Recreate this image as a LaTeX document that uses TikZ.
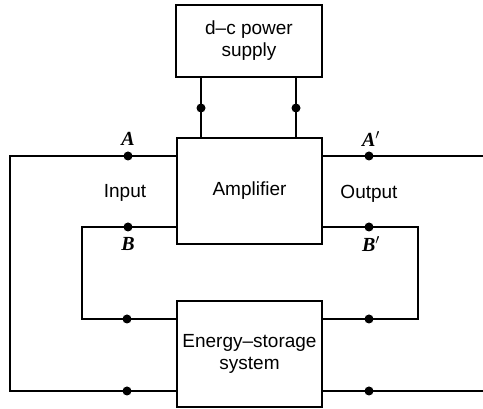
\documentclass[tikz,border=0pt]{standalone}
\usepackage{fontspec}
\setmainfont{Liberation Sans}
\newfontfamily\labfont{Liberation Serif}
\begin{document}
\begin{tikzpicture}[x=1pt,y=-1pt,
  blk/.style={draw,line width=2.2pt,align=center,inner sep=0pt,font=\fontsize{19}{22}\selectfont},
  wire/.style={line width=2.2pt},
  term/.style={circle,fill,inner sep=0pt,minimum size=9pt},
  lab/.style={font=\labfont\fontsize{20}{20}\selectfont\bfseries\itshape},
  txt/.style={font=\fontsize{19}{22}\selectfont}]
\useasboundingbox (0,0) rectangle (483,409);
\node[blk,minimum width=146pt,minimum height=72pt] (ps) at (249,41) {d–c power\\supply};
\node[blk,minimum width=145pt,minimum height=106pt] (amp) at (249.5,191) {Amplifier};
\node[blk,minimum width=145pt,minimum height=106pt] (ess) at (249.5,354) {Energy–storage\\system};
% coordinates
\coordinate (p1) at (201,108);
\coordinate (p2) at (296,108);
\coordinate (tA) at (128,156);
\coordinate (tB) at (128,227);
\coordinate (tAp) at (369,156);
\coordinate (tBp) at (369,227);
\coordinate (eL1) at (127,319);
\coordinate (eR1) at (369,319);
\coordinate (eL2) at (127,391);
\coordinate (eR2) at (369,391);
\coordinate (LO1) at (10,156);
\coordinate (LO2) at (10,391);
\coordinate (LI1) at (82,227);
\coordinate (LI2) at (82,319);
\coordinate (RI1) at (418,227);
\coordinate (RI2) at (418,319);
\coordinate (RO1) at (483,156);
\coordinate (RO2) at (483,391);
% supply leads
\draw[wire] (ps.south -| p1) -- (amp.north -| p1);
\draw[wire] (ps.south -| p2) -- (amp.north -| p2);
% outer loop
\draw[wire] (amp.west |- tA) -- (LO1) -- (LO2) -- (ess.west |- LO2);
\draw[wire] (amp.east |- tAp) -- (RO1);
\draw[wire] (ess.east |- RO2) -- (RO2);
% inner loop
\draw[wire] (amp.west |- tB) -- (LI1) -- (LI2) -- (ess.west |- LI2);
\draw[wire] (amp.east |- tBp) -- (RI1) -- (RI2) -- (ess.east |- RI2);
% terminals
\foreach \c in {p1,p2,tA,tB,tAp,tBp,eL1,eR1,eL2,eR2}
  \node[term] at (\c) {};
% labels
\node[lab] (lA) at (128,139) {A};
\node[lab] (lB) at (128,244) {B};
\node[lab] (lAp) at (371,139) {A$'$};
\node[lab] (lBp) at (371,244) {B$'$};
\node[txt] (inp) at (125,193) {Input};
\node[txt] (outp) at (369,194) {Output};
\end{tikzpicture}
\end{document}
